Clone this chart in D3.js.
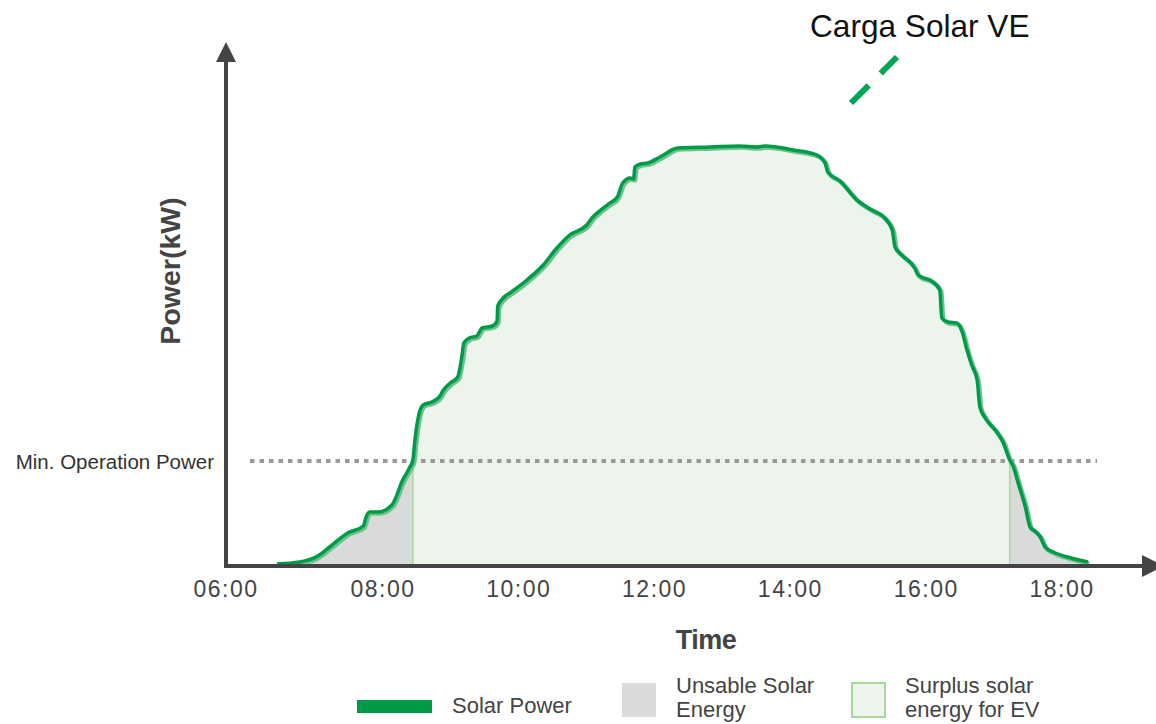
<!DOCTYPE html>
<html>
<head>
<meta charset="utf-8">
<script src="https://cdn.jsdelivr.net/npm/d3@7"></script>
<style>
    body { margin: 0; background: #fff; }
    svg { display: block; font-family: "Liberation Sans", Arial, sans-serif; }
</style>
</head>
<body>
<div id="chart"></div>
<script>
// Solar power curve, time in hours and power in arbitrary units (0-100)
const hours = [6.65, 6.94, 7.17, 7.32, 7.55, 7.75, 7.78, 7.83, 7.94, 8.13, 8.21, 8.27, 8.38, 8.44, 8.47, 8.52,
    8.59, 8.72, 8.84, 8.88, 8.99, 9.10, 9.16, 9.19, 9.27, 9.38, 9.46, 9.61, 9.68, 9.69, 9.77, 9.89, 10.12,
    10.36, 10.56, 10.75, 11.00, 11.09, 11.17, 11.34, 11.45, 11.53, 11.64, 11.69, 11.71, 11.79, 11.90, 12.08,
    12.34, 12.82, 13.26, 13.51, 13.63, 14.04, 14.39, 14.51, 14.55, 14.73, 14.98, 15.20, 15.39, 15.50, 15.54,
    15.64, 15.83, 15.88, 16.10, 16.20, 16.23, 16.32, 16.45, 16.53, 16.60, 16.67, 16.75, 16.79, 16.87, 17.04,
    17.13, 17.23, 17.28, 17.35, 17.46, 17.53, 17.60, 17.68, 17.75, 17.87, 18.08, 18.38];
const power = [0.4, 0.8, 2.0, 3.8, 6.6, 8.0, 9.6, 10.8, 10.8, 12.2, 14.4, 16.6, 19.4, 21.2, 25.2, 29.8,
    32.2, 32.8, 34.0, 35.0, 36.6, 37.8, 41.8, 44.6, 45.6, 46.0, 47.6, 48.0, 49.0, 52.0, 53.6, 54.8, 57.2,
    60.2, 63.6, 66.2, 68.2, 69.8, 70.8, 72.6, 73.8, 76.6, 77.6, 77.4, 79.8, 80.4, 80.6, 81.8,
    83.6, 83.8, 84.0, 83.8, 84.0, 83.2, 82.2, 80.6, 78.8, 77.0, 73.2, 71.2, 69.6, 67.2, 63.8,
    62.2, 59.6, 58.2, 56.8, 55.2, 49.6, 48.8, 48.6, 46.8, 43.2, 40.2, 37.2, 31.8, 29.6, 26.8,
    24.8, 21.2, 20.0, 16.8, 11.8, 7.8, 7.0, 5.8, 3.8, 2.8, 1.8, 0.8];

// Minimum operation power and the times the curve crosses it
const minPower = 21;
const usableStart = 8.44;
const usableEnd = 17.23;

// Tick labels
const tickHours = [6, 8, 10, 12, 14, 16, 18];
const tickLabels = ['06:00', '08:00', '10:00', '12:00', '14:00', '16:00', '18:00'];

const legendItems = [
    { type: 'line', lines: ['Solar Power'] },
    { type: 'unsable', lines: ['Unsable Solar', 'Energy'] },
    { type: 'surplus', lines: ['Surplus solar', 'energy for EV'] }
];

const width = 1156;
const height = 724;

const svg = d3.select('#chart')
    .append('svg')
    .attr('width', width)
    .attr('height', height);

// Scales (the 06:00 label sits at the axis origin, so the time scale is piecewise)
const x = d3.scaleLinear()
    .domain([6, 8, 18])
    .range([226, 383, 1062]);

const y = d3.scaleLinear()
    .domain([0, 100])
    .range([566, 66]);

const data = hours.map((h, i) => ({ hour: h, value: power[i] }));

const axisColor = '#444';
const green = '#009b48';

// Clip regions for the usable / unusable parts
const defs = svg.append('defs');
const clips = [
    { id: 'clip-left', x0: x(6), x1: x(usableStart) },
    { id: 'clip-mid', x0: x(usableStart), x1: x(usableEnd) },
    { id: 'clip-right', x0: x(usableEnd), x1: x(19) }
];
clips.forEach(c => {
    defs.append('clipPath')
        .attr('id', c.id)
        .append('rect')
        .attr('x', c.x0)
        .attr('y', 0)
        .attr('width', c.x1 - c.x0)
        .attr('height', height);
});

const area = d3.area()
    .x(d => x(d.hour))
    .y0(y(0))
    .y1(d => y(d.value))
    .curve(d3.curveMonotoneX);

const line = d3.line()
    .x(d => x(d.hour))
    .y(d => y(d.value))
    .curve(d3.curveMonotoneX);

// Unusable energy (grey)
['clip-left', 'clip-right'].forEach(id => {
    svg.append('path')
        .datum(data)
        .attr('d', area)
        .attr('fill', '#d9dbdb')
        .attr('clip-path', `url(#${id})`);
});

// Surplus energy (light green)
svg.append('path')
    .datum(data)
    .attr('d', area)
    .attr('fill', '#ecf4eb')
    .attr('clip-path', 'url(#clip-mid)');

// Boundary lines of the surplus region
[usableStart, usableEnd].forEach(h => {
    svg.append('line')
        .attr('x1', x(h))
        .attr('x2', x(h))
        .attr('y1', y(0))
        .attr('y2', y(minPower))
        .attr('stroke', '#a8d99a')
        .attr('stroke-width', 1.5);
});

// Min. operation power dotted line
svg.append('line')
    .attr('x1', 250)
    .attr('x2', 1097)
    .attr('y1', y(minPower))
    .attr('y2', y(minPower))
    .attr('stroke', '#9a9a9a')
    .attr('stroke-width', 4)
    .attr('stroke-dasharray', '4.5 5');

svg.append('text')
    .attr('x', 214)
    .attr('y', y(minPower) + 8)
    .attr('text-anchor', 'end')
    .style('font-size', '20.5px')
    .style('fill', '#333')
    .text('Min. Operation Power');

// Solar power curve: light halo then main stroke
svg.append('path')
    .datum(data)
    .attr('d', line)
    .attr('fill', 'none')
    .attr('stroke', '#6cc28c')
    .attr('stroke-width', 4.5)
    .attr('transform', 'translate(1.5,1.5)');

svg.append('path')
    .datum(data)
    .attr('d', line)
    .attr('fill', 'none')
    .attr('stroke', green)
    .attr('stroke-width', 3.5)
    .attr('stroke-linejoin', 'round');

// Axes with arrow heads
svg.append('line')
    .attr('x1', 226).attr('x2', 226)
    .attr('y1', y(0) + 2).attr('y2', 58)
    .attr('stroke', axisColor)
    .attr('stroke-width', 4);

svg.append('path')
    .attr('d', 'M216,62 L226,42 L236,62 Z')
    .attr('fill', axisColor);

svg.append('line')
    .attr('x1', 224).attr('x2', 1145)
    .attr('y1', y(0)).attr('y2', y(0))
    .attr('stroke', axisColor)
    .attr('stroke-width', 4);

svg.append('path')
    .attr('d', 'M1142,555 L1164,566 L1142,577 Z')
    .attr('fill', axisColor);

// Tick labels
svg.selectAll('.tick-label')
    .data(tickHours)
    .enter()
    .append('text')
    .attr('class', 'tick-label')
    .attr('x', d => x(d))
    .attr('y', 597)
    .attr('text-anchor', 'middle')
    .style('font-size', '23px')
    .style('letter-spacing', '1.5px')
    .style('fill', '#444')
    .text((d, i) => tickLabels[i]);

// Axis titles
svg.append('text')
    .attr('x', 706)
    .attr('y', 649)
    .attr('text-anchor', 'middle')
    .style('font-size', '27px')
    .style('font-weight', 'bold')
    .style('letter-spacing', '-0.5px')
    .style('fill', '#444')
    .text('Time');

svg.append('text')
    .attr('transform', 'translate(180,271) rotate(-90)')
    .attr('text-anchor', 'middle')
    .style('font-size', '28.5px')
    .style('font-weight', 'bold')
    .style('fill', '#444')
    .text('Power(kW)');

// Title with green dashed mark
svg.append('text')
    .attr('x', 810)
    .attr('y', 37)
    .style('font-size', '31.6px')
    .style('fill', '#111')
    .text('Carga Solar VE');

svg.append('line')
    .attr('x1', 851).attr('y1', 103)
    .attr('x2', 897).attr('y2', 57)
    .attr('stroke', '#00a651')
    .attr('stroke-width', 6)
    .attr('stroke-dasharray', '25 17');

// Legend
const legendX = [357, 622, 851];
legendItems.forEach((item, i) => {
    const g = svg.append('g')
        .attr('transform', `translate(${legendX[i]}, 0)`);

    if (item.type === 'line') {
        g.append('rect')
            .attr('x', 0).attr('y', 700)
            .attr('width', 75).attr('height', 13)
            .attr('fill', green);
        g.append('text')
            .attr('x', 95)
            .attr('y', 713)
            .style('font-size', '22px')
            .style('fill', '#444')
            .text(item.lines[0]);
    } else {
        g.append('rect')
            .attr('x', item.type === 'surplus' ? 1 : 0)
            .attr('y', 683)
            .attr('width', item.type === 'surplus' ? 33 : 34)
            .attr('height', 34)
            .attr('fill', item.type === 'surplus' ? '#ecf4eb' : '#d9dbdb')
            .attr('stroke', item.type === 'surplus' ? '#a8d99a' : 'none')
            .attr('stroke-width', 2);
        item.lines.forEach((t, j) => {
            g.append('text')
                .attr('x', 54)
                .attr('y', 693 + j * 24)
                .style('font-size', '22px')
                .style('fill', '#444')
                .text(t);
        });
    }
});
</script>
</body>
</html>
